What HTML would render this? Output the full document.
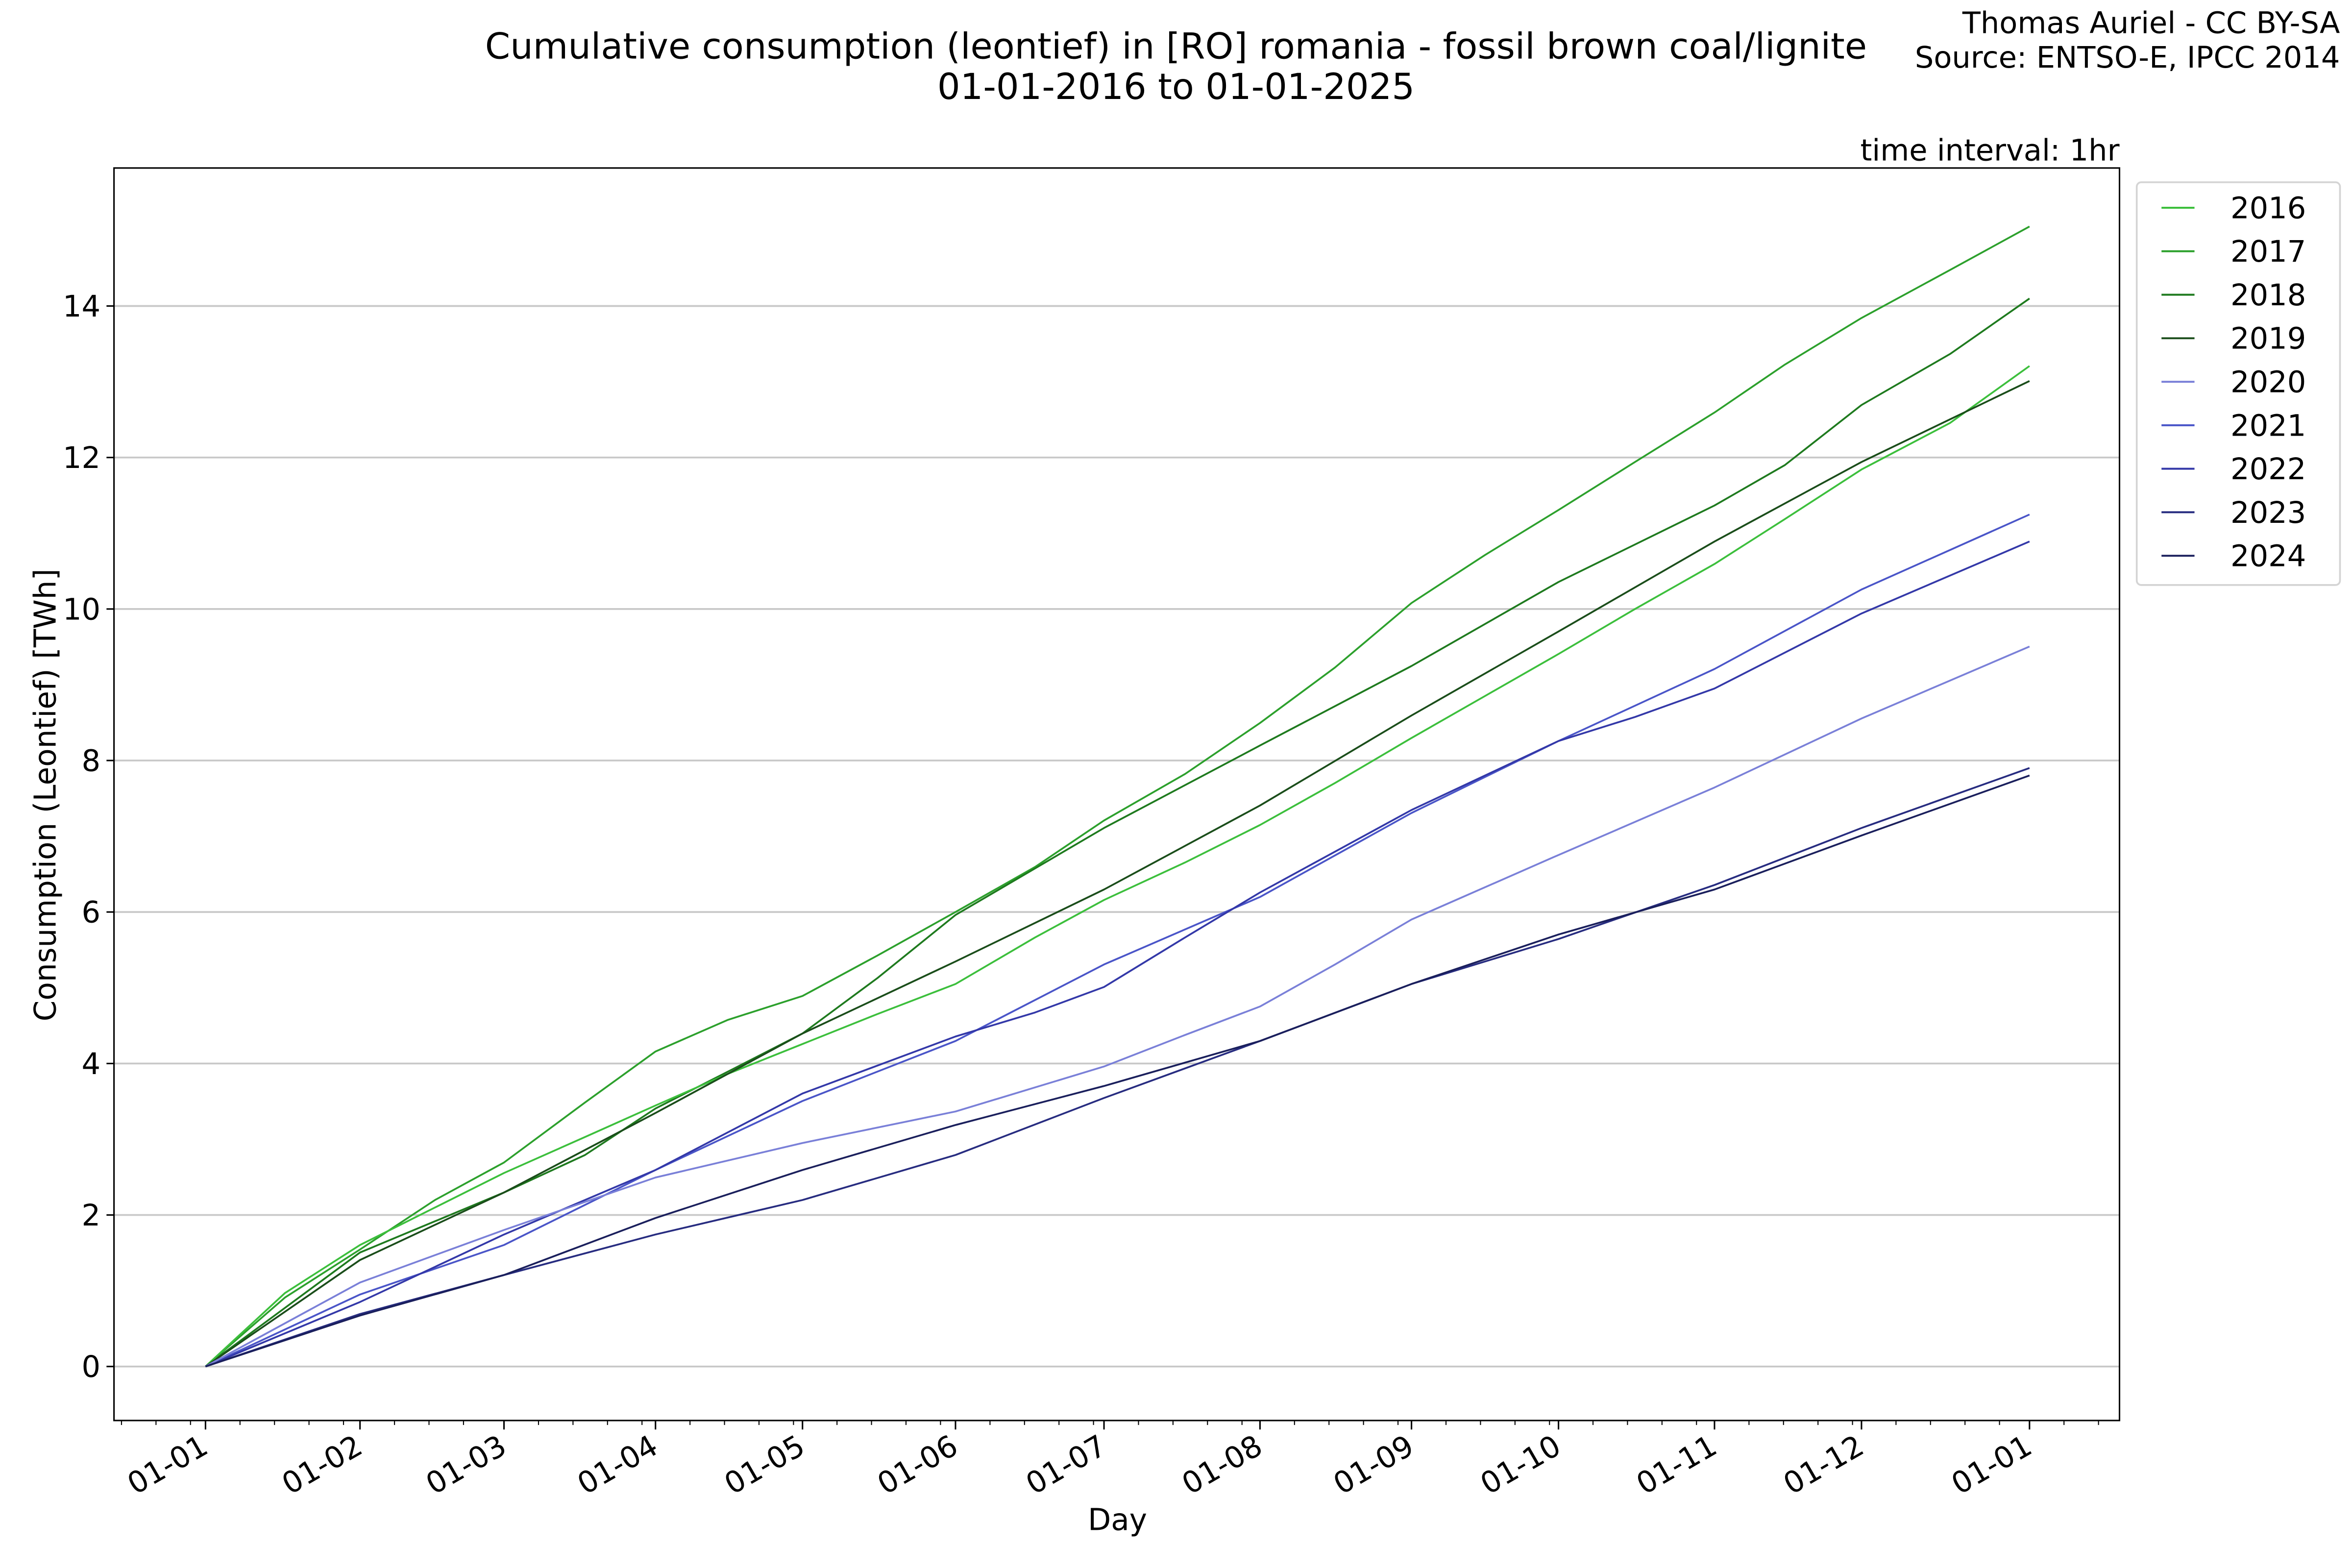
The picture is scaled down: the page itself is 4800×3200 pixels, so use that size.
<!DOCTYPE html>
<html><head><meta charset="utf-8"><style>html,body{margin:0;padding:0;background:#fff}svg{display:block}</style></head>
<body>
<svg width="4800" height="3200" viewBox="0 0 1568 1045.33" xmlns="http://www.w3.org/2000/svg" font-family="DejaVu Sans, Liberation Sans, sans-serif">
<rect width="1568" height="1045.33" fill="#fff"/>
<g font-size="24" text-anchor="middle" fill="#000">
<text x="784" y="39">Cumulative consumption (leontief) in [RO] romania - fossil brown coal/lignite</text>
<text x="784" y="66">01-01-2016 to 01-01-2025</text>
</g>
<g font-size="19.8" text-anchor="end">
<text x="1560" y="22">Thomas Auriel - CC BY-SA</text>
<text x="1560" y="45">Source: ENTSO-E, IPCC 2014</text>
<text x="1413" y="107">time interval: 1hr</text>
</g>
<g stroke="#c8c8c8" stroke-width="1.2">
<line x1="76" x2="1413" y1="911" y2="911"/><line x1="76" x2="1413" y1="810" y2="810"/>
<line x1="76" x2="1413" y1="709" y2="709"/><line x1="76" x2="1413" y1="608" y2="608"/>
<line x1="76" x2="1413" y1="507" y2="507"/><line x1="76" x2="1413" y1="406" y2="406"/>
<line x1="76" x2="1413" y1="305" y2="305"/><line x1="76" x2="1413" y1="204" y2="204"/>
</g>
<rect x="76" y="112" width="1337" height="835" fill="none" stroke="#000" stroke-width="1"/>
<g stroke="#000" stroke-width="1">
<line x1="76" x2="71" y1="911" y2="911"/><line x1="76" x2="71" y1="810" y2="810"/>
<line x1="76" x2="71" y1="709" y2="709"/><line x1="76" x2="71" y1="608" y2="608"/>
<line x1="76" x2="71" y1="507" y2="507"/><line x1="76" x2="71" y1="406" y2="406"/>
<line x1="76" x2="71" y1="305" y2="305"/><line x1="76" x2="71" y1="204" y2="204"/>
</g>
<g font-size="19.8" text-anchor="end">
<text x="67" y="918">0</text><text x="67" y="817">2</text><text x="67" y="716">4</text>
<text x="67" y="615">6</text><text x="67" y="514">8</text><text x="67" y="413">10</text>
<text x="67" y="312">12</text><text x="67" y="211">14</text>
</g>
<text transform="translate(37,530) rotate(-90)" font-size="20" text-anchor="middle">Consumption (Leontief) [TWh]</text>
<text x="745" y="1020" font-size="20" text-anchor="middle">Day</text>
<g stroke="#000" stroke-width="1">
<line x1="137" x2="137" y1="947" y2="953"/><line x1="240" x2="240" y1="947" y2="953"/>
<line x1="336" x2="336" y1="947" y2="953"/><line x1="437" x2="437" y1="947" y2="953"/>
<line x1="535" x2="535" y1="947" y2="953"/><line x1="637" x2="637" y1="947" y2="953"/>
<line x1="736" x2="736" y1="947" y2="953"/><line x1="840" x2="840" y1="947" y2="953"/>
<line x1="941" x2="941" y1="947" y2="953"/><line x1="1039" x2="1039" y1="947" y2="953"/>
<line x1="1143" x2="1143" y1="947" y2="953"/><line x1="1241" x2="1241" y1="947" y2="953"/>
<line x1="1353" x2="1353" y1="947" y2="953"/>
</g>
<path stroke="#000" stroke-width="0.7" d="M81 947v3M104 947v3M127 947v3M160 947v3M183 947v3M206 947v3M229 947v3M263 947v3M286 947v3M309 947v3M359 947v3M382 947v3M405 947v3M428 947v3M460 947v3M483 947v3M506 947v3M529 947v3M558 947v3M581 947v3M604 947v3M627 947v3M660 947v3M683 947v3M706 947v3M729 947v3M759 947v3M782 947v3M805 947v3M828 947v3M863 947v3M886 947v3M909 947v3M932 947v3M964 947v3M987 947v3M1010 947v3M1033 947v3M1062 947v3M1085 947v3M1108 947v3M1131 947v3M1166 947v3M1189 947v3M1212 947v3M1235 947v3M1264 947v3M1287 947v3M1310 947v3M1333 947v3M1376 947v3M1399 947v3"/>
<g font-size="19.8" text-anchor="end">
<text transform="translate(140,968) rotate(-30)">01-01</text>
<text transform="translate(243,968) rotate(-30)">01-02</text>
<text transform="translate(339,968) rotate(-30)">01-03</text>
<text transform="translate(440,968) rotate(-30)">01-04</text>
<text transform="translate(538,968) rotate(-30)">01-05</text>
<text transform="translate(640,968) rotate(-30)">01-06</text>
<text transform="translate(739,968) rotate(-30)">01-07</text>
<text transform="translate(843,968) rotate(-30)">01-08</text>
<text transform="translate(944,968) rotate(-30)">01-09</text>
<text transform="translate(1042,968) rotate(-30)">01-10</text>
<text transform="translate(1146,968) rotate(-30)">01-11</text>
<text transform="translate(1244,968) rotate(-30)">01-12</text>
<text transform="translate(1356,968) rotate(-30)">01-01</text>
</g>
<g fill="none" stroke-width="1.2" stroke-linejoin="round">
<polyline stroke="#2ca02c" points="137,911 190,865 240,833 290,800 336,775 390,735 437,701 485,680 535,664 585,637 637,608 690,578 736,547 790,516 840,482 890,445 941,402 990,370 1039,340 1090,308 1143,275 1190,243 1241,212 1300,180 1353,151"/>
<polyline stroke="#1e7a1e" points="137,911 240,835 336,795 390,770 437,739 490,712 535,689 585,652 637,610 736,552 840,497 941,444 1039,388 1143,337 1190,310 1241,270 1300,236 1353,199"/>
<polyline stroke="#3cbf3c" points="137,911 190,862 240,830 290,805 336,782 390,758 437,737 485,716 535,696 585,676 637,656 690,625 736,600 790,575 840,550 890,522 941,492 990,464 1039,436 1090,406 1143,376 1190,346 1241,313 1300,282 1353,244"/>
<polyline stroke="#1a4d1a" points="137,911 240,840 336,795 437,742 535,689 637,641 736,593 840,537 941,477 1039,421 1143,361 1241,308 1353,254"/>
<polyline stroke="#4a55c8" points="137,911 240,863 336,830 437,780 535,734 637,694 736,643 840,598 941,542 1039,494 1143,446 1241,393 1353,343"/>
<polyline stroke="#3338a8" points="137,911 240,868 336,823 437,780 535,729 637,691 690,675 736,658 790,625 840,595 941,540 1039,494 1090,478 1143,459 1241,409 1353,361"/>
<polyline stroke="#7a80d8" points="137,911 240,855 336,820 437,785 535,762 637,741 736,711 790,690 840,671 890,643 941,613 1039,570 1143,525 1241,479 1353,431"/>
<polyline stroke="#272c80" points="137,911 240,876 336,850 437,823 535,800 637,770 736,732 840,694 941,656 1039,626 1143,590 1241,552 1353,512"/>
<polyline stroke="#1a1f5c" points="137,911 240,877 336,850 437,812 535,780 637,750 736,724 840,694 941,656 1039,623 1143,593 1241,557 1353,517"/>
</g>
<rect x="1424.5" y="121.5" width="135.5" height="268.5" rx="3" fill="#fff" stroke="#d4d4d4" stroke-width="1.2"/>
<g stroke-width="1.3">
<line x1="1441" x2="1463" y1="138.5" y2="138.5" stroke="#3cbf3c"/>
<line x1="1441" x2="1463" y1="167.5" y2="167.5" stroke="#2ca02c"/>
<line x1="1441" x2="1463" y1="196.5" y2="196.5" stroke="#1e7a1e"/>
<line x1="1441" x2="1463" y1="225.5" y2="225.5" stroke="#1a4d1a"/>
<line x1="1441" x2="1463" y1="254.5" y2="254.5" stroke="#7a80d8"/>
<line x1="1441" x2="1463" y1="283.5" y2="283.5" stroke="#4a55c8"/>
<line x1="1441" x2="1463" y1="312.5" y2="312.5" stroke="#3338a8"/>
<line x1="1441" x2="1463" y1="341.5" y2="341.5" stroke="#272c80"/>
<line x1="1441" x2="1463" y1="370.5" y2="370.5" stroke="#1a1f5c"/>
</g>
<g font-size="19.8">
<text x="1487" y="145.5">2016</text><text x="1487" y="174.5">2017</text><text x="1487" y="203.5">2018</text>
<text x="1487" y="232.5">2019</text><text x="1487" y="261.5">2020</text><text x="1487" y="290.5">2021</text>
<text x="1487" y="319.5">2022</text><text x="1487" y="348.5">2023</text><text x="1487" y="377.5">2024</text>
</g>
</svg>
</body></html>
